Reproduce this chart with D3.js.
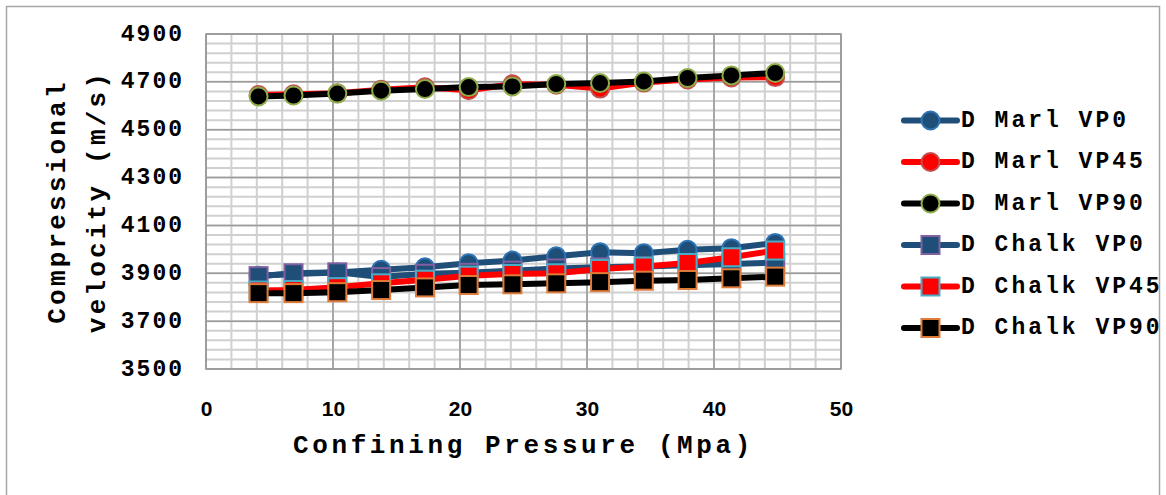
<!DOCTYPE html>
<html>
<head>
<meta charset="utf-8">
<script src="https://cdn.jsdelivr.net/npm/d3@7"></script>
<style>
  html, body { margin: 0; padding: 0; background: #ffffff; }
  svg { display: block; }
</style>
</head>
<body>
<svg id="chart" width="1166" height="495"></svg>
<script>
// Confining pressure steps (MPa)
const pressure = [4.14, 6.89, 10.34, 13.79, 17.24, 20.68, 24.13, 27.58, 31.03, 34.47, 37.92, 41.37, 44.82];

// Compressional velocity (m/s) per sample and direction
const marlVP0   = [3890, 3897, 3903, 3915, 3925, 3942, 3953, 3971, 3988, 3984, 3998, 4005, 4027];
const marlVP45  = [4645, 4648, 4652, 4667, 4677, 4665, 4690, 4688, 4672, 4697, 4710, 4718, 4720];
const marlVP90  = [4639, 4643, 4651, 4663, 4670, 4678, 4681, 4691, 4695, 4702, 4716, 4727, 4737];
const chalkVP0  = [3888, 3900, 3904, 3884, 3898, 3902, 3911, 3920, 3925, 3928, 3934, 3939, 3945];
const chalkVP45 = [3828, 3830, 3842, 3858, 3873, 3890, 3897, 3900, 3918, 3928, 3943, 3967, 3995];
const chalkVP90 = [3817, 3817, 3821, 3830, 3841, 3851, 3854, 3858, 3863, 3869, 3872, 3879, 3886];

const seriesNames = ["D Marl VP0", "D Marl VP45", "D Marl VP90", "D Chalk VP0", "D Chalk VP45", "D Chalk VP90"];
const xTicks = [0, 10, 20, 30, 40, 50];
const yTicks = [3500, 3700, 3900, 4100, 4300, 4500, 4700, 4900];

const series = [
  { name: seriesNames[0], values: marlVP0,   line: "#1f4e79", fill: "#1f4e79", edge: "#2e75b6", shape: "circle" },
  { name: seriesNames[1], values: marlVP45,  line: "#ff0000", fill: "#ff0000", edge: "#c0504d", shape: "circle" },
  { name: seriesNames[2], values: marlVP90,  line: "#000000", fill: "#000000", edge: "#8fac4a", shape: "circle" },
  { name: seriesNames[3], values: chalkVP0,  line: "#1f4e79", fill: "#1f4e79", edge: "#7f60a0", shape: "square" },
  { name: seriesNames[4], values: chalkVP45, line: "#ff0000", fill: "#ff0000", edge: "#4bacc6", shape: "square" },
  { name: seriesNames[5], values: chalkVP90, line: "#000000", fill: "#000000", edge: "#e07b39", shape: "square" }
];

const svg = d3.select("#chart");
const plot = { left: 206, right: 841, top: 34, bottom: 369 };

const x = d3.scaleLinear().domain([0, 50]).range([plot.left, plot.right]);
const y = d3.scaleLinear().domain([3500, 4900]).range([plot.bottom, plot.top]);

const monoFont = "'Liberation Mono', 'Courier New', monospace";
const narrowFont = "'Liberation Sans Narrow', 'Arial Narrow', 'Liberation Sans', sans-serif";

// chart frame
svg.append("rect")
  .attr("x", 6.5).attr("y", 6.5).attr("width", 1153).attr("height", 500)
  .attr("fill", "#fff").attr("stroke", "#a6a6a6").attr("stroke-width", 1.5);

// grid: minor lines first, then major
const grid = svg.append("g");
const xMinor = d3.range(0, 50.001, 2);
const yMinor = d3.range(3500, 4900.001, 40);
grid.selectAll("line.xm").data(xMinor).join("line")
  .attr("x1", d => x(d)).attr("x2", d => x(d))
  .attr("y1", plot.top).attr("y2", plot.bottom)
  .attr("stroke", "#d0d0d0").attr("stroke-width", 2);
grid.selectAll("line.ym").data(yMinor).join("line")
  .attr("y1", d => y(d)).attr("y2", d => y(d))
  .attr("x1", plot.left).attr("x2", plot.right)
  .attr("stroke", "#d0d0d0").attr("stroke-width", 2);
grid.selectAll("line.xM").data(xTicks).join("line")
  .attr("x1", d => x(d)).attr("x2", d => x(d))
  .attr("y1", plot.top).attr("y2", plot.bottom)
  .attr("stroke", "#9a9a9a").attr("stroke-width", 1.5);
grid.selectAll("line.yM").data(yTicks).join("line")
  .attr("y1", d => y(d)).attr("y2", d => y(d))
  .attr("x1", plot.left).attr("x2", plot.right)
  .attr("stroke", "#9a9a9a").attr("stroke-width", 1.5);
grid.append("rect")
  .attr("x", plot.left).attr("y", plot.top)
  .attr("width", plot.right - plot.left).attr("height", plot.bottom - plot.top)
  .attr("fill", "none").attr("stroke", "#9a9a9a").attr("stroke-width", 1.5);

// axes (labels only, Excel-style)
const xAxis = svg.append("g")
  .attr("transform", `translate(0,${plot.bottom + 28})`)
  .call(d3.axisBottom(x).tickValues(xTicks).tickSize(0).tickFormat(d3.format("d")));
xAxis.select(".domain").remove();
xAxis.selectAll("text")
  .attr("font-family", narrowFont).attr("font-weight", "bold")
  .attr("font-size", 21).attr("fill", "#000").attr("dy", "0")
  .attr("dominant-baseline", "central").attr("y", 11);

const yAxis = svg.append("g")
  .attr("transform", `translate(${plot.left - 22},0)`)
  .call(d3.axisLeft(y).tickValues(yTicks).tickSize(0).tickFormat(d3.format("d")));
yAxis.select(".domain").remove();
yAxis.selectAll("text")
  .attr("font-family", monoFont).attr("font-weight", "bold")
  .attr("font-size", 23).attr("letter-spacing", 2).attr("fill", "#000")
  .attr("x", 0).attr("dy", "0").attr("dominant-baseline", "central");

// axis titles
svg.append("text")
  .attr("x", (plot.left + plot.right) / 2).attr("y", 446)
  .attr("text-anchor", "middle").attr("dominant-baseline", "central")
  .attr("font-family", monoFont).attr("font-weight", "bold")
  .attr("font-size", 26).attr("letter-spacing", 3.6)
  .text("Confining Pressure (Mpa)");

const yTitle = svg.append("g")
  .attr("transform", `translate(0,${(plot.top + plot.bottom) / 2}) rotate(-90)`);
yTitle.append("text")
  .attr("x", 0).attr("y", 58)
  .attr("text-anchor", "middle").attr("dominant-baseline", "central")
  .attr("font-family", monoFont).attr("font-weight", "bold")
  .attr("font-size", 26).attr("letter-spacing", 3.2)
  .text("Compressional");
yTitle.append("text")
  .attr("x", 0).attr("y", 98)
  .attr("text-anchor", "middle").attr("dominant-baseline", "central")
  .attr("font-family", monoFont).attr("font-weight", "bold")
  .attr("font-size", 26).attr("letter-spacing", 3.2)
  .text("velocity (m/s)");

// series: line then markers, in series order
const lineGen = d3.line().x(d => x(d[0])).y(d => y(d[1]));
const markerSize = 18;

function drawMarker(g, s, cx, cy) {
  if (s.shape === "circle") {
    g.append("circle")
      .attr("cx", cx).attr("cy", cy).attr("r", markerSize / 2)
      .attr("fill", s.fill).attr("stroke", s.edge).attr("stroke-width", 2);
  } else {
    g.append("rect")
      .attr("x", cx - markerSize / 2).attr("y", cy - markerSize / 2)
      .attr("width", markerSize).attr("height", markerSize)
      .attr("fill", s.fill).attr("stroke", s.edge).attr("stroke-width", 2);
  }
}

const marks = svg.append("g");
series.forEach(s => {
  const pts = pressure.map((p, i) => [p, s.values[i]]);
  const g = marks.append("g");
  g.append("path")
    .attr("d", lineGen(pts))
    .attr("fill", "none").attr("stroke", s.line)
    .attr("stroke-width", 6).attr("stroke-linejoin", "round").attr("stroke-linecap", "round");
  pts.forEach(p => drawMarker(g, s, x(p[0]), y(p[1])));
});

// legend
const legend = svg.append("g");
const legendY0 = 120.5, legendStep = 41.5;
series.forEach((s, i) => {
  const ly = legendY0 + i * legendStep;
  const g = legend.append("g");
  g.append("line")
    .attr("x1", 904).attr("x2", 957).attr("y1", ly).attr("y2", ly)
    .attr("stroke", s.line).attr("stroke-width", 6).attr("stroke-linecap", "round");
  drawMarker(g, s, 930.5, ly);
  g.append("text")
    .attr("x", 961).attr("y", ly)
    .attr("dominant-baseline", "central")
    .attr("font-family", monoFont).attr("font-weight", "bold")
    .attr("font-size", 23).attr("letter-spacing", 3)
    .text(s.name);
});
</script>
</body>
</html>
